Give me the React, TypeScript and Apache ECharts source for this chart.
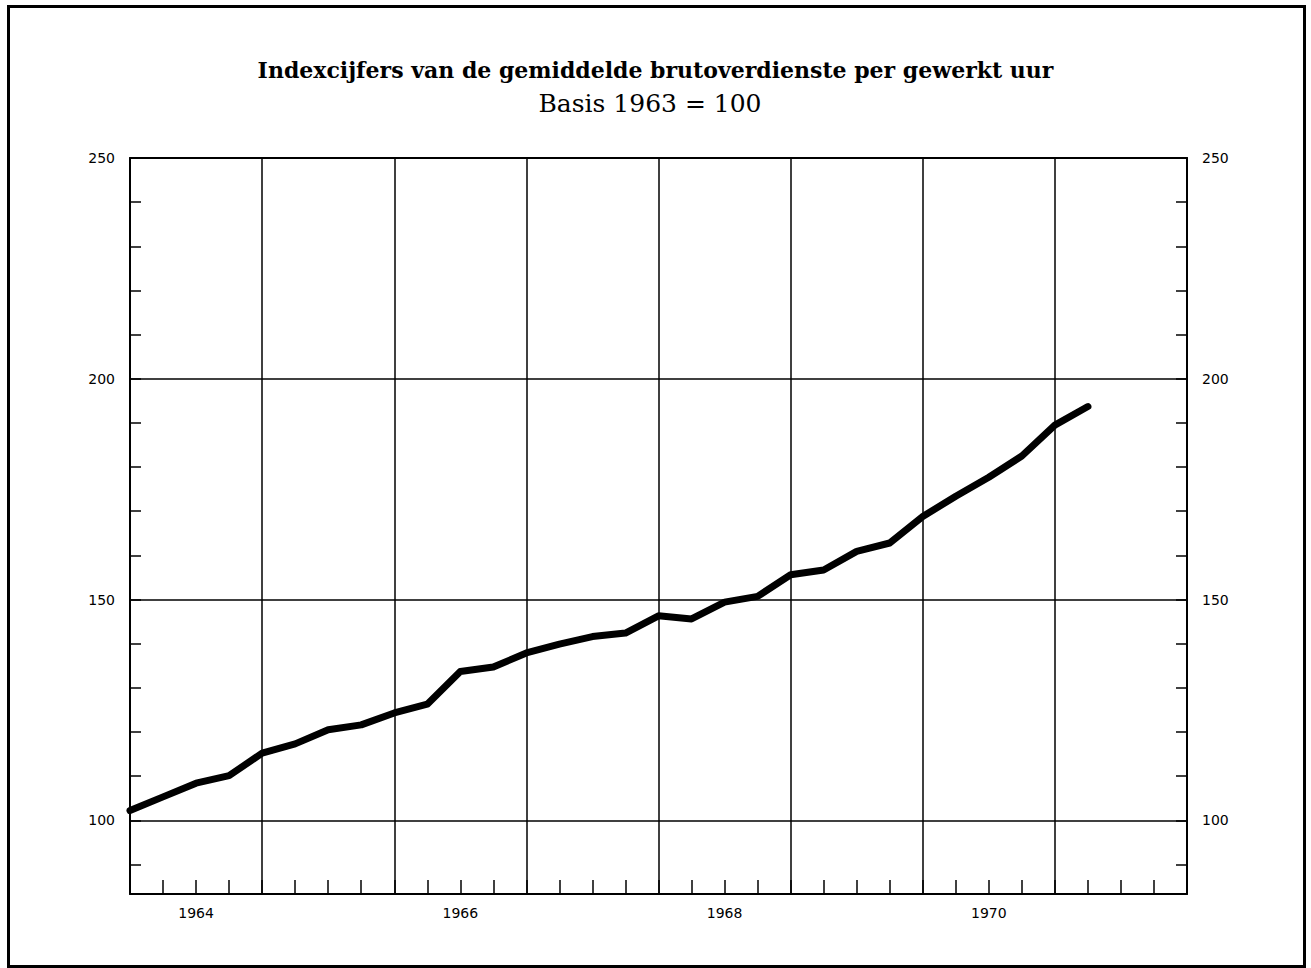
import React, { useEffect, useRef } from "react";
import * as echarts from "echarts";

const titleText = "Indexcijfers van de gemiddelde brutoverdienste per gewerkt uur";
const subtitleText = "Basis 1963 = 100";

// quarterly index values, 1964 Q1 .. 1971 Q2 (x = quarter index from start of 1964)
const quarterValues = [
  102.2, 105.3, 108.4, 110.1, 115.2, 117.3, 120.5, 121.6, 124.3, 126.3,
  133.7, 134.7, 137.9, 139.9, 141.6, 142.4, 146.3, 145.6, 149.4, 150.7,
  155.6, 156.7, 160.9, 162.8, 168.8, 173.4, 177.7, 182.5, 189.5, 193.7,
];

const yearLabels = ["1964", "1966", "1968", "1970"];
const yearLabelQuarters = [2, 10, 18, 26];
const yearLineQuarters = [4, 8, 12, 16, 20, 24, 28];
const xQuarterCount = 32;

const yMin = 83.3;
const yMax = 250;
const yLabelValues = [100, 150, 200, 250];
const yTickValues = [90, 100, 110, 120, 130, 140, 150, 160, 170, 180, 190, 200, 210, 220, 230, 240];
const yGridValues = [100, 150, 200];

const labelFont = {
  fontFamily: "DejaVu Sans",
  fontSize: 14,
  color: "#000",
};

export default function App() {
  const ref = useRef<HTMLDivElement>(null);

  useEffect(() => {
    if (!ref.current) return;
    const chart = echarts.init(ref.current, undefined, { renderer: "svg" });

    const yAxisBase = (position: "left" | "right") => ({
      type: "value",
      position,
      min: yMin,
      max: yMax,
      axisLine: { show: true, onZero: false, lineStyle: { color: "#000", width: 2 } },
      axisTick: {
        show: true,
        inside: true,
        length: 11,
        customValues: yTickValues,
        lineStyle: { color: "#000", width: 1.5 },
      },
      axisLabel: {
        show: true,
        customValues: yLabelValues,
        margin: 15,
        ...labelFont,
      },
      splitLine: { show: false },
    });

    chart.setOption({
      animation: false,
      backgroundColor: "#fff",
      title: [
        {
          text: titleText,
          left: "center",
          top: 54,
          textStyle: {
            fontFamily: "DejaVu Serif",
            fontWeight: "bold",
            fontSize: 22,
            color: "#000",
          },
        },
        {
          text: subtitleText,
          left: 645,
          textAlign: "center",
          top: 86,
          textStyle: {
            fontFamily: "DejaVu Serif",
            fontWeight: "normal",
            fontSize: 25,
            color: "#000",
          },
        },
      ],
      grid: { left: 130, right: 124, top: 158, bottom: 74, show: false },
      xAxis: [
        {
          type: "value",
          position: "bottom",
          min: 0,
          max: xQuarterCount,
          interval: 1,
          axisLine: { show: true, onZero: false, lineStyle: { color: "#000", width: 2 } },
          axisTick: {
            show: true,
            inside: true,
            length: 14,
            lineStyle: { color: "#000", width: 1.5 },
          },
          axisLabel: {
            show: true,
            customValues: yearLabelQuarters,
            formatter: (v: number) => {
              const i = yearLabelQuarters.indexOf(Math.round(v));
              return i >= 0 ? yearLabels[i] : "";
            },
            margin: 12,
            ...labelFont,
          },
          splitLine: { show: false },
        },
        {
          type: "value",
          position: "top",
          min: 0,
          max: xQuarterCount,
          interval: 1,
          axisLine: { show: true, onZero: false, lineStyle: { color: "#000", width: 2 } },
          axisTick: { show: false },
          axisLabel: { show: false },
          splitLine: { show: false },
        },
      ],
      yAxis: [yAxisBase("left"), yAxisBase("right")],
      graphic: [
        {
          type: "rect",
          shape: { x: 8.5, y: 6.5, width: 1296, height: 960 },
          style: { fill: "none", stroke: "#000", lineWidth: 3 },
          silent: true,
        },
      ],
      series: [
        {
          type: "line",
          xAxisIndex: 0,
          yAxisIndex: 0,
          data: quarterValues.map((v, i) => [i, v]),
          showSymbol: false,
          symbol: "none",
          lineStyle: { color: "#000", width: 7, cap: "round", join: "round" },
          markLine: {
            silent: true,
            symbol: ["none", "none"],
            label: { show: false },
            lineStyle: { color: "#000", width: 1.5, type: "solid" },
            data: [
              ...yGridValues.map((v) => ({ yAxis: v })),
              ...yearLineQuarters.map((q) => ({ xAxis: q })),
            ],
          },
        },
      ],
    });

    return () => {
      chart.dispose();
    };
  }, []);

  return (
    <div
      ref={ref}
      style={{ position: "absolute", left: 0, top: 0, width: 1311, height: 968 }}
    />
  );
}
